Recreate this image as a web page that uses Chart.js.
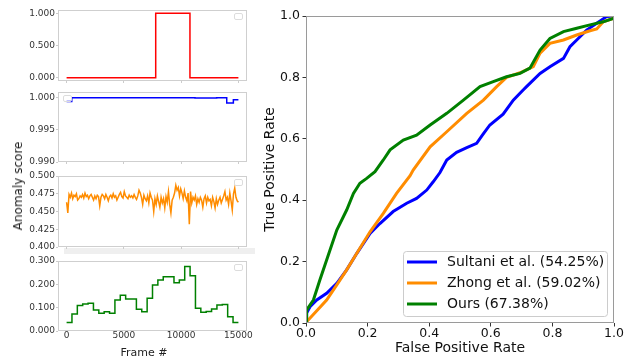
<!DOCTYPE html>
<html><head><meta charset="utf-8">
<script src="https://cdn.jsdelivr.net/npm/chart.js@4.4.1/dist/chart.umd.min.js"></script>
<style>
html,body{margin:0;padding:0;background:#fff;width:631px;height:358px;overflow:hidden;font-family:"DejaVu Sans",sans-serif}
canvas{position:absolute}
.lbl{position:absolute;font-family:"DejaVu Sans",sans-serif;color:#222;white-space:nowrap}
</style></head><body>
<div style="position:absolute;left:64px;top:248px;width:191px;height:6px;background:#efefef"></div>
<canvas id="c1"></canvas>
<canvas id="c2"></canvas>
<canvas id="c3"></canvas>
<canvas id="c4"></canvas>
<canvas id="cr"></canvas>
<div class="lbl" style="left:18px;top:186px;font-size:12px;transform:translate(-50%,-50%) rotate(-90deg)">Anomaly score</div>
<div class="lbl" style="left:144px;top:352px;font-size:11px;transform:translate(-50%,-50%)">Frame #</div>
<script>
// ---------- data ----------
const FRAME_TICKS = [0, 5000, 10000, 15000];
const FRAME_MIN = -750, FRAME_MAX = 15750;

const GT_FRAMES = [0, 7780, 10770, 15000];
const GT_VALUES = [0, 1, 0, 0];

const SULTANI_FRAMES = [0, 450, 11210, 13100, 13980, 14560, 15000];
const SULTANI_SCORES = [0.99942, 1.0, 0.99998, 1.0, 0.99917, 0.99970, 0.99970];

const ZHONG_SCORES = [
0.463,0.448,0.474,0.470,0.476,0.468,0.473,0.471,0.475,0.466,
0.468,0.472,0.470,0.474,0.469,0.476,0.471,0.473,0.468,0.472,
0.474,0.470,0.466,0.472,0.468,0.473,0.471,0.458,0.470,0.474,
0.472,0.468,0.474,0.470,0.465,0.471,0.473,0.469,0.475,0.470,
0.472,0.466,0.470,0.474,0.477,0.471,0.469,0.478,0.472,0.470,
0.468,0.473,0.470,0.472,0.469,0.474,0.470,0.467,0.472,0.480,
0.476,0.470,0.460,0.473,0.468,0.465,0.472,0.462,0.476,0.470,
0.466,0.450,0.468,0.460,0.472,0.464,0.456,0.470,0.462,0.468,
0.455,0.471,0.463,0.478,0.460,0.448,0.466,0.470,0.476,0.487,
0.480,0.484,0.472,0.482,0.476,0.468,0.479,0.470,0.465,0.476,
0.432,0.478,0.462,0.470,0.466,0.472,0.460,0.468,0.463,0.470,
0.466,0.456,0.468,0.472,0.462,0.470,0.465,0.467,0.458,0.470,
0.464,0.455,0.468,0.460,0.466,0.470,0.462,0.467,0.472,0.478,
0.466,0.470,0.460,0.476,0.465,0.452,0.475,0.483,0.470,0.465,
0.463];
const ZHONG_LAST_FRAME = 15000;

const OURS_SCORES = [0.036,0.073,0.109,0.116,0.119,0.090,0.076,0.083,0.076,0.133,
0.153,0.137,0.137,0.093,0.083,0.140,0.197,0.219,0.233,0.233,
0.207,0.219,0.276,0.237,0.097,0.080,0.084,0.094,0.111,0.114,
0.061,0.036];
const OURS_SEGMENT = 468.75;

const ROC_TICKS = [0, 0.2, 0.4, 0.6, 0.8, 1.0];
const SULTANI_FPR = [0,0.002,0.013,0.035,0.067,0.1,0.132,0.165,0.208,0.24,0.283,0.327,0.359,0.392,0.413,0.435,0.457,0.489,0.522,0.554,0.575,0.597,0.64,0.673,0.705,0.716,0.76,0.792,0.836,0.857,0.879,0.911,0.944,0.976,1];
const SULTANI_TPR = [0,0.032,0.053,0.075,0.097,0.129,0.173,0.227,0.292,0.324,0.363,0.39,0.406,0.433,0.46,0.49,0.531,0.556,0.571,0.585,0.615,0.645,0.68,0.726,0.759,0.77,0.813,0.835,0.862,0.9,0.922,0.954,0.976,0.998,1];
const ZHONG_FPR = [0,0.002,0.035,0.067,0.1,0.132,0.165,0.208,0.251,0.294,0.338,0.348,0.403,0.457,0.522,0.576,0.619,0.651,0.695,0.738,0.76,0.792,0.836,0.879,0.922,0.944,0.965,1,1];
const ZHONG_TPR = [0,0.004,0.04,0.075,0.124,0.173,0.227,0.297,0.357,0.422,0.48,0.498,0.574,0.623,0.683,0.726,0.77,0.8,0.815,0.835,0.879,0.911,0.922,0.938,0.952,0.958,0.981,0.993,1];
const OURS_FPR = [0,0.002,0.024,0.045,0.078,0.1,0.132,0.154,0.175,0.197,0.224,0.251,0.273,0.316,0.359,0.403,0.457,0.511,0.565,0.608,0.651,0.695,0.727,0.76,0.792,0.836,0.879,0.922,0.965,1,1];
const OURS_TPR = [0,0.042,0.075,0.14,0.238,0.303,0.368,0.422,0.455,0.471,0.493,0.531,0.564,0.596,0.612,0.645,0.683,0.726,0.77,0.786,0.802,0.813,0.83,0.889,0.927,0.949,0.96,0.971,0.981,0.993,1];
const ROC_LABELS = ['Sultani et al. (54.25%)', 'Zhong et al. (59.02%)', 'Ours (67.38%)'];
// ---------- helpers ----------
const pts = (xs, ys) => xs.map((x, i) => ({x, y: ys[i]}));

const framePlugin = {
  id: 'frame',
  afterDraw(chart, args, opts) {
    const a = chart.chartArea, ctx = chart.ctx;
    ctx.save(); ctx.strokeStyle = opts.color || '#ccc'; ctx.lineWidth = 1;
    ctx.strokeRect(Math.round(a.left) + 0.5, Math.round(a.top) + 0.5, Math.round(a.right - a.left) - 1, Math.round(a.bottom - a.top) - 1);
    if (opts.emptyLegend) {
      const w = 8, h = 6;
      const x = opts.emptyLegend === 'left' ? a.left + 5 : a.right - 5 - w;
      const y = a.top + 3;
      ctx.strokeStyle = '#dcdcdc';
      ctx.beginPath();
      if (ctx.roundRect) ctx.roundRect(x + 0.5, y + 0.5, w, h, 1.5); else ctx.rect(x + 0.5, y + 0.5, w, h);
      ctx.stroke();
    }
    ctx.restore();
  }
};

const rocLegendPlugin = {
  id: 'rocLegend',
  afterDraw(chart) {
    const a = chart.chartArea, ctx = chart.ctx;
    const w = 204, h = 65;
    const x = a.right - 7 - w, y = a.bottom - 7 - h;
    ctx.save();
    ctx.fillStyle = 'rgba(255,255,255,0.85)';
    ctx.strokeStyle = '#cccccc'; ctx.lineWidth = 1;
    ctx.beginPath();
    if (ctx.roundRect) ctx.roundRect(x + 0.5, y + 0.5, w, h, 3); else ctx.rect(x + 0.5, y + 0.5, w, h);
    ctx.fill(); ctx.stroke();
    ctx.font = '14px "DejaVu Sans"';
    ctx.textBaseline = 'middle';
    chart.data.datasets.forEach((ds, i) => {
      const cy = y + 11 + i * 21;
      ctx.strokeStyle = ds.borderColor; ctx.lineWidth = 3;
      ctx.beginPath(); ctx.moveTo(x + 4, cy); ctx.lineTo(x + 34, cy); ctx.stroke();
      ctx.fillStyle = '#111';
      ctx.fillText(ds.label, x + 44, cy + 0.5);
    });
    ctx.restore();
  }
};

function sub(id, top, bottom, showX, yMin, yMax, yTicks, dataset, legendPos) {
  const padTop = 8;
  const xh = showX ? 27 : 7;
  const cv = document.getElementById(id);
  cv.width = 262; cv.height = (bottom - top) + padTop + xh;
  cv.style.left = '0px'; cv.style.top = (top - padTop) + 'px';
  new Chart(cv, {
    type: 'line',
    data: {datasets: [dataset]},
    plugins: [framePlugin],
    options: {
      responsive: false, animation: false, events: [],
      layout: {padding: {top: padTop, left: 0, right: 262 - 247, bottom: 0}},
      plugins: {legend: {display: false}, tooltip: {enabled: false}, frame: {color: '#cfcfcf', emptyLegend: legendPos}},
      scales: {
        x: {type: 'linear', min: FRAME_MIN, max: FRAME_MAX,
          afterBuildTicks: s => { s.ticks = FRAME_TICKS.map(v => ({value: v})); },
          afterFit: s => { s.height = xh; },
          ticks: {display: showX, padding: 0, font: {family: 'DejaVu Sans', size: 9, lineHeight: 1}, color: '#333', maxRotation: 0, autoSkip: false, callback: v => String(v)},
          grid: {drawOnChartArea: false, drawTicks: !showX, tickLength: 2, color: '#cccccc'},
          border: {display: false}},
        y: {min: yMin, max: yMax,
          afterBuildTicks: s => { s.ticks = yTicks.map(v => ({value: v})); },
          afterFit: s => { s.width = 58; },
          ticks: {padding: 1, font: {family: 'DejaVu Sans', size: 9}, color: '#333', callback: v => v.toFixed(3)},
          grid: {drawOnChartArea: false, tickLength: 2, color: '#cccccc'},
          border: {display: false}}
      }
    }
  });
}

const stepDs = (xs, ys, color) => ({data: pts(xs, ys), borderColor: color, borderWidth: 1.5, pointRadius: 0, stepped: true, fill: false});

sub('c1', 10, 81, false, -0.05, 1.05, [0, 0.5, 1.0], stepDs(GT_FRAMES, GT_VALUES, '#ff0000'), 'right');
sub('c2', 92, 162, false, 0.99, 1.0009, [0.990, 0.995, 1.000], stepDs(SULTANI_FRAMES, SULTANI_SCORES, '#0000ff'), 'left');
const zhongFrames = ZHONG_SCORES.map((_, i) => i * ZHONG_LAST_FRAME / (ZHONG_SCORES.length - 1));
sub('c3', 176, 247, false, 0.4, 0.5, [0.400, 0.425, 0.450, 0.475, 0.500],
  {data: pts(zhongFrames, ZHONG_SCORES), borderColor: '#ff8c00', borderWidth: 1.5, pointRadius: 0, tension: 0, fill: false}, 'right');
const oursFrames = OURS_SCORES.map((_, i) => i * OURS_SEGMENT).concat([OURS_SCORES.length * OURS_SEGMENT]);
const oursVals = OURS_SCORES.concat([OURS_SCORES[OURS_SCORES.length - 1]]);
sub('c4', 261, 331, true, 0, 0.3, [0, 0.1, 0.2, 0.3], stepDs(oursFrames, oursVals, '#008000'), 'right');

// ---------- ROC ----------
const cr = document.getElementById('cr');
cr.width = 376; cr.height = 358; cr.style.left = '255px'; cr.style.top = '0px';
const rocDs = (xs, ys, color, label, order) => ({label, data: pts(xs, ys), borderColor: color, borderWidth: 3, pointRadius: 0, tension: 0, fill: false, order});
new Chart(cr, {
  type: 'line',
  data: {datasets: [
    rocDs(SULTANI_FPR, SULTANI_TPR, '#0000ff', ROC_LABELS[0], 3),
    rocDs(ZHONG_FPR, ZHONG_TPR, '#ff8c00', ROC_LABELS[1], 2),
    rocDs(OURS_FPR, OURS_TPR, '#008000', ROC_LABELS[2], 1)
  ]},
  plugins: [framePlugin, rocLegendPlugin],
  options: {
    responsive: false, animation: false, events: [],
    layout: {padding: {top: 16, right: 17, left: 0, bottom: 0}},
    plugins: {legend: {display: false}, tooltip: {enabled: false}, frame: {color: '#9a9a9a'}},
    scales: {
      x: {type: 'linear', min: 0, max: 1,
        afterBuildTicks: s => { s.ticks = ROC_TICKS.map(v => ({value: v})); },
        afterFit: s => { s.height = 35; },
        ticks: {padding: 0, font: {family: 'DejaVu Sans', size: 12.5}, color: '#111', maxRotation: 0, autoSkip: false, callback: v => v.toFixed(1)},
        grid: {drawOnChartArea: false, tickLength: 3.5, color: '#333'},
        border: {display: false},
        title: {display: true, text: 'False Positive Rate', font: {family: 'DejaVu Sans', size: 14}, color: '#111', padding: {top: 0, bottom: 1.6}}},
      y: {min: 0, max: 1,
        afterBuildTicks: s => { s.ticks = ROC_TICKS.map(v => ({value: v})); },
        afterFit: s => { s.width = 51; },
        ticks: {padding: 2.5, font: {family: 'DejaVu Sans', size: 12.5}, color: '#111', callback: v => v.toFixed(1)},
        grid: {drawOnChartArea: false, tickLength: 3.5, color: '#333'},
        border: {display: false},
        title: {display: true, text: 'True Positive Rate', font: {family: 'DejaVu Sans', size: 14}, color: '#111', padding: {top: 6.6, bottom: 0}}}
    }
  }
});
</script>
</body></html>
